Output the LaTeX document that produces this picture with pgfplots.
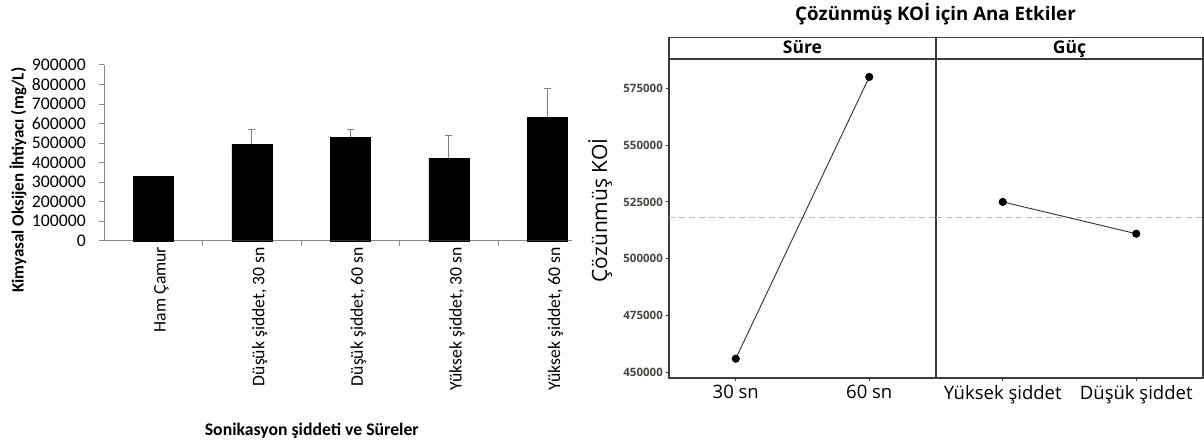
\documentclass[border=0pt]{standalone}
\usepackage{fontspec}
\setmainfont{Carlito}
\newfontfamily\osans{Open Sans}
\usepackage{pgfplots}
\pgfplotsset{compat=1.18}
\definecolor{axisgray}{HTML}{888888}
\definecolor{errgray}{HTML}{808080}
\definecolor{framegray}{HTML}{3C3C3C}
\definecolor{linegray}{HTML}{303030}
\definecolor{ticklab}{HTML}{4A4540}
\begin{document}
\begin{tikzpicture}
\useasboundingbox (0,0) rectangle (1204bp,444bp);
% ---------------- left chart ----------------
\begin{axis}[
  at={(104bp,203.3bp)}, anchor=south west,
  width=468bp, height=175.7bp, scale only axis,
  xmin=-0.5, xmax=4.25, ymin=0, ymax=900000,
  axis x line=bottom, axis y line=left,
  axis line style={draw=axisgray, line width=1bp, -},
  tick align=outside, major tick length=5bp, minor tick length=5bp,
  tick style={draw=axisgray, line width=1bp},
  ytick={0,100000,...,900000},
  scaled y ticks=false,
  /pgf/number format/fixed, /pgf/number format/precision=0,
  /pgf/number format/1000 sep={}, /pgf/number format/assume math mode=true,
  yticklabel style={font=\fontsize{17.7bp}{19bp}\selectfont, inner sep=1bp, xshift=-12bp},
  xtick={0,1,2,3,4},
  xticklabels={Ham Çamur, {Düşük şiddet, 30 sn}, {Düşük şiddet, 60 sn}, {Yüksek şiddet, 30 sn}, {Yüksek şiddet, 60 sn}},
  major x tick style={draw=none},
  minor xtick={0.5,1.5,2.5,3.5},
  xticklabel style={rotate=90, anchor=east, font=\fontsize{17.7bp}{19bp}\selectfont, inner sep=1bp, yshift=-8bp},
  ylabel={Kimyasal Oksijen İhtiyacı (mg/L)},
  ylabel style={at={(axis description cs:-0.184,0.345)}, anchor=center, font=\bfseries\fontsize{17bp}{19bp}\selectfont},
  xlabel={Sonikasyon şiddeti ve Süreler},
  xlabel style={at={(axis description cs:0.444,-1.083)}, anchor=center, font=\bfseries\fontsize{17.7bp}{19bp}\selectfont},
  clip=false,
]
\addplot[ybar, bar width=40bp, bar shift=0pt, fill=black, draw=black]
  coordinates {(0,328000)};
\addplot[ybar, bar width=40bp, bar shift=0pt, fill=black, draw=black,
  error bars/.cd, y dir=plus, y explicit,
  error bar style={draw=errgray, line width=1.3bp},
  error mark options={rotate=90, mark size=3.5bp, draw=errgray, line width=1.3bp}]
  coordinates {
   (1,494000) +- (0,77000)
   (2,530000) +- (0,41000)
   (3,422000) +- (0,116000)
   (4,633000) +- (0,145000)
  };
\end{axis}
% ---------------- right chart: panel 1 ----------------
\begin{axis}[
  at={(669bp,66bp)}, anchor=south west,
  width=267bp, height=319bp, scale only axis,
  xmin=0.5, xmax=2.5, ymin=447500, ymax=587900,
  axis line style={draw=framegray, line width=1.2bp},
  tick align=outside, major tick length=3bp,
  tick style={draw=framegray, line width=1bp},
  xtick pos=left, ytick pos=left,
  xtick={1,2}, xticklabels={30 sn, 60 sn},
  xticklabel style={font=\osans\fontsize{18.5bp}{20bp}\selectfont, inner sep=1bp, yshift=-3bp},
  ytick={450000,475000,...,575000},
  scaled y ticks=false,
  /pgf/number format/fixed, /pgf/number format/precision=0,
  /pgf/number format/1000 sep={}, /pgf/number format/assume math mode=true,
  yticklabel style={font=\osans\bfseries\fontsize{11.5bp}{13bp}\selectfont, text=ticklab, inner sep=1bp, xshift=-2bp},
  ylabel={Çözünmüş KOİ},
  ylabel style={at={(axis description cs:-0.258,0.525)}, anchor=center, font=\osans\fontsize{21bp}{23bp}\selectfont},
  title={Süre},
  every axis title shift=0pt,
  title style={at={(axis description cs:0.5,1)}, anchor=south, draw=framegray, line width=1.2bp,
     minimum width=267bp, minimum height=21bp, inner sep=0pt, text height=16bp, text depth=5bp,
     font=\osans\bfseries\fontsize{17.5bp}{19bp}\selectfont},
  clip=false,
]
\addplot[gray!55, line width=1bp, dash pattern=on 6bp off 4bp, forget plot] coordinates {(0.5,518000) (2.5,518000)};
\addplot[linegray, line width=0.9bp, mark=*, mark size=3.6bp, mark options={fill=black, draw=black, solid}]
  coordinates {(1,456000) (2,580000)};
\end{axis}
% ---------------- right chart: panel 2 ----------------
\begin{axis}[
  at={(936bp,66bp)}, anchor=south west,
  width=267bp, height=319bp, scale only axis,
  xmin=0.5, xmax=2.5, ymin=447500, ymax=587900,
  axis line style={draw=framegray, line width=1.2bp},
  tick align=outside, major tick length=3bp,
  tick style={draw=framegray, line width=1bp},
  xtick pos=left, ytick=\empty,
  xtick={1,2}, xticklabels={Yüksek şiddet, Düşük şiddet},
  xticklabel style={font=\osans\fontsize{18.5bp}{20bp}\selectfont, inner sep=1bp, yshift=-3bp},
  title={Güç},
  every axis title shift=0pt,
  title style={at={(axis description cs:0.5,1)}, anchor=south, draw=framegray, line width=1.2bp,
     minimum width=267bp, minimum height=21bp, inner sep=0pt, text height=16bp, text depth=5bp,
     font=\osans\bfseries\fontsize{17.5bp}{19bp}\selectfont},
  clip=false,
]
\addplot[gray!55, line width=1bp, dash pattern=on 6bp off 4bp, forget plot] coordinates {(0.5,518000) (2.5,518000)};
\addplot[linegray, line width=0.9bp, mark=*, mark size=3.6bp, mark options={fill=black, draw=black, solid}]
  coordinates {(1,525000) (2,511000)};
\end{axis}
\node[anchor=base, font=\osans\bfseries\fontsize{18.7bp}{20bp}\selectfont] at (935.5bp,423.3bp) {Çözünmüş KOİ için Ana Etkiler};
\end{tikzpicture}
\end{document}
